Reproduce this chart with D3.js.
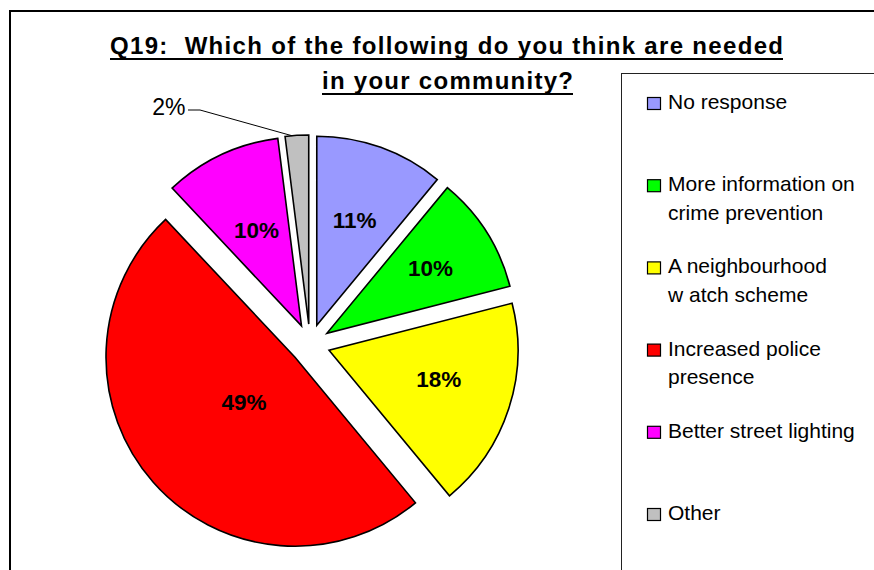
<!DOCTYPE html>
<html><head><meta charset="utf-8">
<script src="https://cdn.jsdelivr.net/npm/d3@7"></script>
<style>body{margin:0;background:#fff}svg{display:block}</style>
</head><body>
<script>
// ---- data ----
const categories = ["No response", "More information on crime prevention", "A neighbourhood watch scheme", "Increased police presence", "Better street lighting", "Other"];
const legendLines = [["No response"], ["More information on", "crime prevention"], ["A neighbourhood", "w atch scheme"], ["Increased police", "presence"], ["Better street lighting"], ["Other"]];
const values = [11, 10, 18, 49, 10, 2];
const valueLabels = ["11%", "10%", "18%", "49%", "10%", "2%"];
const colors = ["#9999FF", "#00FF00", "#FFFF00", "#FF0000", "#FF00FF", "#C0C0C0"];
const titleLines = ["Q19:  Which of the following do you think are needed", "in your community?"];

// ---- layout ----
const W = 874, H = 570;
const cx = 310, cy = 344, R = 189, explode = 20;
const labelFrac = [0.59, 0.65, 0.6, 0.36, 0.56, null];
const labelAngleShift = [0, 0, -0.06, 0, 0, 0];

const svg = d3.select("body").append("svg").attr("width", W).attr("height", H);
svg.append("rect").attr("width", W).attr("height", H).attr("fill", "#fff");

// outer frame
svg.append("rect").attr("x", 10).attr("y", 11).attr("width", 1000).attr("height", 1000)
  .attr("fill", "none").attr("stroke", "#000").attr("stroke-width", 2);

// title
const titleG = svg.append("g").attr("font-family", "Liberation Sans, Arial, sans-serif")
  .attr("font-weight", "bold").attr("font-size", 24).attr("fill", "#000")
  .style("white-space", "pre");
const tl = [{t: titleLines[0], x: 110, y: 54, w: 673}, {t: titleLines[1], x: 322, y: 89, w: 251}];
tl.forEach(o => {
  titleG.append("text").attr("x", o.x).attr("y", o.y).attr("textLength", o.w)
    .attr("lengthAdjust", "spacing").attr("xml:space", "preserve").text(o.t);
  titleG.append("rect").attr("x", o.x).attr("y", o.y + 4).attr("width", o.w).attr("height", 2).attr("fill", "#000");
});

// legend box
svg.append("rect").attr("x", 621.5).attr("y", 73.5).attr("width", 400).attr("height", 600)
  .attr("fill", "#fff").attr("stroke", "#222").attr("stroke-width", 1);

const legY = d3.scaleLinear().domain([0, categories.length - 1]).range([109, 520]);
const leg = svg.append("g").attr("font-family", "Liberation Sans, Arial, sans-serif").attr("font-size", 21);
categories.forEach((c, i) => {
  const by = legY(i);
  leg.append("rect").attr("x", 647.5).attr("y", by - 11.5).attr("width", 13).attr("height", 12)
    .attr("fill", colors[i]).attr("stroke", "#000").attr("stroke-width", 1.2);
  legendLines[i].forEach((ln, j) => {
    leg.append("text").attr("x", 668).attr("y", by + j * 28.5).text(ln);
  });
});

// pie
const pie = d3.pie().sort(null).value(d => d).startAngle(0).endAngle(2 * Math.PI);
const arcs = pie(values);
const arc = d3.arc().innerRadius(0).outerRadius(R);
const g = svg.append("g").attr("transform", `translate(${cx},${cy})`);
arcs.forEach((a, i) => {
  const mid = (a.startAngle + a.endAngle) / 2;
  const ox = explode * Math.sin(mid), oy = -explode * Math.cos(mid);
  const sg = g.append("g").attr("transform", `translate(${ox},${oy})`);
  sg.append("path").attr("d", arc(a)).attr("fill", colors[i])
    .attr("stroke", "#000").attr("stroke-width", 1.6).attr("stroke-linejoin", "miter");
  if (labelFrac[i] != null) {
    const r = labelFrac[i] * R, la = mid + labelAngleShift[i];
    sg.append("text").attr("x", r * Math.sin(la)).attr("y", -r * Math.cos(la))
      .attr("text-anchor", "middle").attr("dy", "0.36em")
      .attr("font-family", "Liberation Sans, Arial, sans-serif").attr("font-weight", "bold")
      .attr("font-size", 22.5).text(valueLabels[i]);
  }
});

// outside label for the small slice, with leader line
{
  const i = 5, a = arcs[i];
  const mid = (a.startAngle + a.endAngle) / 2;
  const ox = explode * Math.sin(mid), oy = -explode * Math.cos(mid);
  const ang = a.startAngle + (a.endAngle - a.startAngle) * 0.3;
  const px = cx + ox + R * Math.sin(ang), py = cy + oy - R * Math.cos(ang);
  svg.append("path").attr("d", `M188,110 L200,110 L${px},${py}`)
    .attr("fill", "none").attr("stroke", "#000").attr("stroke-width", 1);
  svg.append("text").attr("x", 185.5).attr("y", 115).attr("text-anchor", "end")
    .attr("font-family", "Liberation Sans, Arial, sans-serif").attr("font-size", 23)
    .text(valueLabels[i]);
}
</script>
</body></html>
